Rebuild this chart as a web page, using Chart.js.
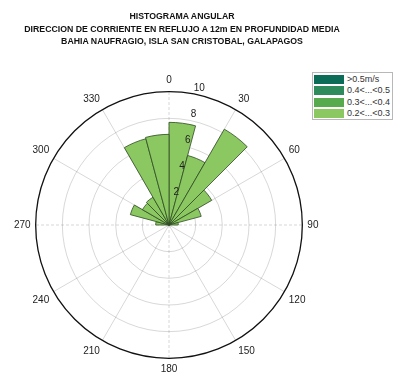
<!DOCTYPE html>
<html>
<head>
<meta charset="utf-8">
<script src="https://cdn.jsdelivr.net/npm/chart.js"></script>
<style>
  body { margin: 0; padding: 0; background: #fff; }
  #wrap { position: relative; width: 393px; height: 376px; overflow: hidden; }
  #title {
    position: absolute; left: 0; top: 10px; width: 364px; text-align: center;
    font-family: "Liberation Sans Narrow", Arial, sans-serif; font-size: 9.5px; font-weight: bold;
    line-height: 12.5px; color: #111; transform: scaleX(0.92); transform-origin: 182px 0;
  }
  #legend {
    position: absolute; left: 312px; top: 72px; width: 81px; height: 48px;
    border: 1px solid #b8b8b8; box-sizing: border-box; background: #fff;
    font-family: Arial, "Liberation Sans", sans-serif; font-size: 9px; color: #333;
  }
  #legend .row { position: absolute; left: 1px; height: 9px; line-height: 9px; white-space: nowrap; }
  #legend .sw { display: inline-block; width: 30px; height: 9px; vertical-align: top; margin-right: 3px; }
</style>
</head>
<body>
<div id="wrap">
  <canvas id="rose" width="393" height="376"></canvas>
  <div id="title"></div>
  <div id="legend"></div>
</div>
<script>
  // direction bins (start angle of each 15 deg sector, clockwise from north)
  const dirBins = ['0','15','30','45','60','75','90','105','120','135','150','165',
                   '180','195','210','225','240','255','270','285','300','315','330','345'];
  // counts for 0.2 < v < 0.3 m/s (the only class present)
  const counts = [7.7, 5.4, 8.3, 3.7, 2.5, 0.7, 0, 0, 0, 0, 0, 0,
                  0, 0, 0, 0, 0, 0, 1.0, 3.0, 2.3, 2.4, 6.7, 6.8];
  const radialTicks = [0, 2, 4, 6, 8, 10];
  const speedClasses = ['>0.5m/s', '0.4<...<0.5', '0.3<...<0.4', '0.2<...<0.3'];
  const classColors = ['#0b6d57', '#2e8c5c', '#58aa4f', '#8cc862'];
  const titleLines = ['HISTOGRAMA ANGULAR',
                      'DIRECCION DE CORRIENTE EN REFLUJO A 12m EN PROFUNDIDAD MEDIA',
                      'BAHIA NAUFRAGIO, ISLA SAN CRISTOBAL, GALAPAGOS'];

  // title + legend (html)
  const ttl = document.getElementById('title');
  titleLines.forEach(t => {
    const d = document.createElement('div');
    d.textContent = t;
    ttl.appendChild(d);
  });
  const leg = document.getElementById('legend');
  speedClasses.forEach((name, i) => {
    const row = document.createElement('div');
    row.className = 'row';
    row.style.top = (2 + i * 11.3) + 'px';
    row.innerHTML = '<span class="sw" style="background:' + classColors[i] + '"></span>' + name;
    leg.appendChild(row);
  });

  // radial tick labels drawn at ~12 deg like the original plot
  const tickLabelPlugin = {
    id: 'tickLabels',
    afterDraw(chart) {
      const s = chart.scales.r;
      const ctx = chart.ctx;
      ctx.save();
      ctx.font = '10px Arial, "Liberation Sans", sans-serif';
      ctx.fillStyle = '#222';
      ctx.textAlign = 'center';
      ctx.textBaseline = 'middle';
      radialTicks.forEach(v => {
        if (v === 0) return;
        const d = s.getDistanceFromCenterForValue(v) + 6.5;
        const a = (12.5 - 90) * Math.PI / 180;
        ctx.fillText(String(v), s.xCenter + d * Math.cos(a), s.yCenter + d * Math.sin(a));
      });
      ctx.restore();
    }
  };

  const ctx = document.getElementById('rose').getContext('2d');
  new Chart(ctx, {
    type: 'polarArea',
    data: {
      labels: dirBins,
      datasets: [{
        label: speedClasses[3],
        data: counts,
        backgroundColor: classColors[3],
        borderColor: '#2d4a22',
        borderWidth: 0.8
      }]
    },
    options: {
      responsive: false,
      animation: false,
      layout: { padding: { left: 12, right: 71, top: 74, bottom: -5 } },
      plugins: {
        legend: { display: false },
        tooltip: { enabled: false },
        title: { display: false }
      },
      scales: {
        r: {
          min: 0,
          max: 10,
          startAngle: 0,
          ticks: { display: false, stepSize: 2 },
          grid: {
            circular: true,
            color: (c) => c.tick && c.tick.value === 10 ? '#111' : 'rgba(0,0,0,0.2)',
            lineWidth: (c) => c.tick && c.tick.value === 10 ? 1.3 : 0.8
          },
          angleLines: {
            display: true,
            color: (c) => c.index % 2 === 0 ? 'rgba(0,0,0,0.2)' : 'rgba(0,0,0,0)',
            lineWidth: 0.8,
            borderDash: (c) => c.index % 6 === 0 ? [3, 2] : []
          },
          pointLabels: {
            display: true,
            padding: 5,
            color: '#222',
            font: { family: 'Arial, "Liberation Sans", sans-serif', size: 10 },
            callback: (label, i) => i % 2 === 0 ? label : ''
          }
        }
      }
    },
    plugins: [tickLabelPlugin]
  });
</script>
</body>
</html>
